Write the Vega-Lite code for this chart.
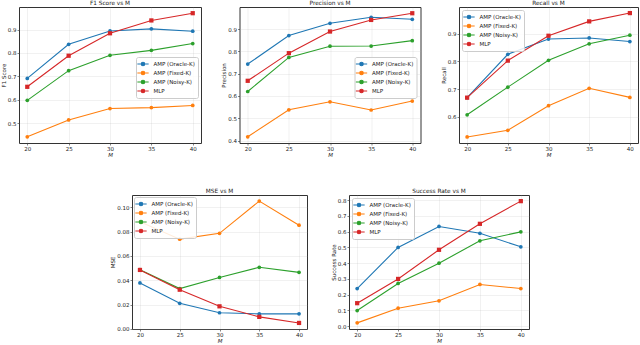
{
  "$schema": "https://vega.github.io/schema/vega-lite/v6.json",
  "padding": {"left": 0, "top": -1, "right": 0, "bottom": 0},
  "background": "white",
  "datasets": {
    "d": [
      {"metric": "F1", "method": "AMP (Oracle-K)", "M": 20, "value": 0.691},
      {"metric": "F1", "method": "AMP (Oracle-K)", "M": 25, "value": 0.837},
      {"metric": "F1", "method": "AMP (Oracle-K)", "M": 30, "value": 0.894},
      {"metric": "F1", "method": "AMP (Oracle-K)", "M": 35, "value": 0.903},
      {"metric": "F1", "method": "AMP (Oracle-K)", "M": 40, "value": 0.893},
      {"metric": "F1", "method": "AMP (Fixed-K)", "M": 20, "value": 0.441},
      {"metric": "F1", "method": "AMP (Fixed-K)", "M": 25, "value": 0.513},
      {"metric": "F1", "method": "AMP (Fixed-K)", "M": 30, "value": 0.562},
      {"metric": "F1", "method": "AMP (Fixed-K)", "M": 35, "value": 0.566},
      {"metric": "F1", "method": "AMP (Fixed-K)", "M": 40, "value": 0.575},
      {"metric": "F1", "method": "AMP (Noisy-K)", "M": 20, "value": 0.597},
      {"metric": "F1", "method": "AMP (Noisy-K)", "M": 25, "value": 0.724},
      {"metric": "F1", "method": "AMP (Noisy-K)", "M": 30, "value": 0.790},
      {"metric": "F1", "method": "AMP (Noisy-K)", "M": 35, "value": 0.811},
      {"metric": "F1", "method": "AMP (Noisy-K)", "M": 40, "value": 0.840},
      {"metric": "F1", "method": "MLP", "M": 20, "value": 0.655},
      {"metric": "F1", "method": "MLP", "M": 25, "value": 0.788},
      {"metric": "F1", "method": "MLP", "M": 30, "value": 0.884},
      {"metric": "F1", "method": "MLP", "M": 35, "value": 0.939},
      {"metric": "F1", "method": "MLP", "M": 40, "value": 0.970},

      {"metric": "P", "method": "AMP (Oracle-K)", "M": 20, "value": 0.743},
      {"metric": "P", "method": "AMP (Oracle-K)", "M": 25, "value": 0.871},
      {"metric": "P", "method": "AMP (Oracle-K)", "M": 30, "value": 0.926},
      {"metric": "P", "method": "AMP (Oracle-K)", "M": 35, "value": 0.953},
      {"metric": "P", "method": "AMP (Oracle-K)", "M": 40, "value": 0.944},
      {"metric": "P", "method": "AMP (Fixed-K)", "M": 20, "value": 0.417},
      {"metric": "P", "method": "AMP (Fixed-K)", "M": 25, "value": 0.538},
      {"metric": "P", "method": "AMP (Fixed-K)", "M": 30, "value": 0.574},
      {"metric": "P", "method": "AMP (Fixed-K)", "M": 35, "value": 0.537},
      {"metric": "P", "method": "AMP (Fixed-K)", "M": 40, "value": 0.577},
      {"metric": "P", "method": "AMP (Noisy-K)", "M": 20, "value": 0.620},
      {"metric": "P", "method": "AMP (Noisy-K)", "M": 25, "value": 0.773},
      {"metric": "P", "method": "AMP (Noisy-K)", "M": 30, "value": 0.823},
      {"metric": "P", "method": "AMP (Noisy-K)", "M": 35, "value": 0.824},
      {"metric": "P", "method": "AMP (Noisy-K)", "M": 40, "value": 0.848},
      {"metric": "P", "method": "MLP", "M": 20, "value": 0.668},
      {"metric": "P", "method": "MLP", "M": 25, "value": 0.792},
      {"metric": "P", "method": "MLP", "M": 30, "value": 0.889},
      {"metric": "P", "method": "MLP", "M": 35, "value": 0.941},
      {"metric": "P", "method": "MLP", "M": 40, "value": 0.971},

      {"metric": "R", "method": "AMP (Oracle-K)", "M": 20, "value": 0.669},
      {"metric": "R", "method": "AMP (Oracle-K)", "M": 25, "value": 0.826},
      {"metric": "R", "method": "AMP (Oracle-K)", "M": 30, "value": 0.881},
      {"metric": "R", "method": "AMP (Oracle-K)", "M": 35, "value": 0.885},
      {"metric": "R", "method": "AMP (Oracle-K)", "M": 40, "value": 0.872},
      {"metric": "R", "method": "AMP (Fixed-K)", "M": 20, "value": 0.527},
      {"metric": "R", "method": "AMP (Fixed-K)", "M": 25, "value": 0.551},
      {"metric": "R", "method": "AMP (Fixed-K)", "M": 30, "value": 0.640},
      {"metric": "R", "method": "AMP (Fixed-K)", "M": 35, "value": 0.703},
      {"metric": "R", "method": "AMP (Fixed-K)", "M": 40, "value": 0.670},
      {"metric": "R", "method": "AMP (Noisy-K)", "M": 20, "value": 0.607},
      {"metric": "R", "method": "AMP (Noisy-K)", "M": 25, "value": 0.707},
      {"metric": "R", "method": "AMP (Noisy-K)", "M": 30, "value": 0.804},
      {"metric": "R", "method": "AMP (Noisy-K)", "M": 35, "value": 0.864},
      {"metric": "R", "method": "AMP (Noisy-K)", "M": 40, "value": 0.895},
      {"metric": "R", "method": "MLP", "M": 20, "value": 0.669},
      {"metric": "R", "method": "MLP", "M": 25, "value": 0.803},
      {"metric": "R", "method": "MLP", "M": 30, "value": 0.893},
      {"metric": "R", "method": "MLP", "M": 35, "value": 0.945},
      {"metric": "R", "method": "MLP", "M": 40, "value": 0.975},

      {"metric": "MSE", "method": "AMP (Oracle-K)", "M": 20, "value": 0.0378},
      {"metric": "MSE", "method": "AMP (Oracle-K)", "M": 25, "value": 0.0210},
      {"metric": "MSE", "method": "AMP (Oracle-K)", "M": 30, "value": 0.0132},
      {"metric": "MSE", "method": "AMP (Oracle-K)", "M": 35, "value": 0.0123},
      {"metric": "MSE", "method": "AMP (Oracle-K)", "M": 40, "value": 0.0123},
      {"metric": "MSE", "method": "AMP (Fixed-K)", "M": 20, "value": 0.0882},
      {"metric": "MSE", "method": "AMP (Fixed-K)", "M": 25, "value": 0.0739},
      {"metric": "MSE", "method": "AMP (Fixed-K)", "M": 30, "value": 0.0787},
      {"metric": "MSE", "method": "AMP (Fixed-K)", "M": 35, "value": 0.1053},
      {"metric": "MSE", "method": "AMP (Fixed-K)", "M": 40, "value": 0.0854},
      {"metric": "MSE", "method": "AMP (Noisy-K)", "M": 20, "value": 0.0487},
      {"metric": "MSE", "method": "AMP (Noisy-K)", "M": 25, "value": 0.0331},
      {"metric": "MSE", "method": "AMP (Noisy-K)", "M": 30, "value": 0.0423},
      {"metric": "MSE", "method": "AMP (Noisy-K)", "M": 35, "value": 0.0507},
      {"metric": "MSE", "method": "AMP (Noisy-K)", "M": 40, "value": 0.0465},
      {"metric": "MSE", "method": "MLP", "M": 20, "value": 0.0485},
      {"metric": "MSE", "method": "MLP", "M": 25, "value": 0.0322},
      {"metric": "MSE", "method": "MLP", "M": 30, "value": 0.0185},
      {"metric": "MSE", "method": "MLP", "M": 35, "value": 0.0098},
      {"metric": "MSE", "method": "MLP", "M": 40, "value": 0.0048},

      {"metric": "SR", "method": "AMP (Oracle-K)", "M": 20, "value": 0.239},
      {"metric": "SR", "method": "AMP (Oracle-K)", "M": 25, "value": 0.500},
      {"metric": "SR", "method": "AMP (Oracle-K)", "M": 30, "value": 0.633},
      {"metric": "SR", "method": "AMP (Oracle-K)", "M": 35, "value": 0.590},
      {"metric": "SR", "method": "AMP (Oracle-K)", "M": 40, "value": 0.504},
      {"metric": "SR", "method": "AMP (Fixed-K)", "M": 20, "value": 0.021},
      {"metric": "SR", "method": "AMP (Fixed-K)", "M": 25, "value": 0.114},
      {"metric": "SR", "method": "AMP (Fixed-K)", "M": 30, "value": 0.161},
      {"metric": "SR", "method": "AMP (Fixed-K)", "M": 35, "value": 0.265},
      {"metric": "SR", "method": "AMP (Fixed-K)", "M": 40, "value": 0.239},
      {"metric": "SR", "method": "AMP (Noisy-K)", "M": 20, "value": 0.099},
      {"metric": "SR", "method": "AMP (Noisy-K)", "M": 25, "value": 0.271},
      {"metric": "SR", "method": "AMP (Noisy-K)", "M": 30, "value": 0.400},
      {"metric": "SR", "method": "AMP (Noisy-K)", "M": 35, "value": 0.542},
      {"metric": "SR", "method": "AMP (Noisy-K)", "M": 40, "value": 0.599},
      {"metric": "SR", "method": "MLP", "M": 20, "value": 0.146},
      {"metric": "SR", "method": "MLP", "M": 25, "value": 0.300},
      {"metric": "SR", "method": "MLP", "M": 30, "value": 0.485},
      {"metric": "SR", "method": "MLP", "M": 35, "value": 0.650},
      {"metric": "SR", "method": "MLP", "M": 40, "value": 0.794}
    ]
  },
  "resolve": {"scale": {"color": "independent"}, "legend": {"color": "independent"}},
  "spacing": 28,
  "vconcat": [
    {
      "spacing": 18.5,
      "resolve": {"scale": {"color": "independent"}, "legend": {"color": "independent"}},
      "hconcat": [
        {
          "width": 182, "height": 136,
          "title": "F1 Score vs M",
          "data": {"name": "d"},
          "transform": [{"filter": "datum.metric === 'F1'"}],
          "encoding": {
            "x": {"field": "M", "type": "quantitative", "scale": {"domain": [19, 41], "nice": false, "zero": false}, "axis": {"values": [20, 25, 30, 35, 40], "title": "M"}},
            "y": {"field": "value", "type": "quantitative", "scale": {"domain": [0.4145, 0.9965], "nice": false, "zero": false}, "axis": {"values": [0.5, 0.6, 0.7, 0.8, 0.9], "format": ".1f", "title": "F1 Score"}},
            "color": {"field": "method", "type": "nominal", "sort": ["AMP (Oracle-K)", "AMP (Fixed-K)", "AMP (Noisy-K)", "MLP"],
              "scale": {"domain": ["AMP (Oracle-K)", "AMP (Fixed-K)", "AMP (Noisy-K)", "MLP"], "range": ["#1f77b4", "#ff7f0e", "#2ca02c", "#d62728"]},
              "legend": {"title": null, "orient": "none", "legendX": 117, "legendY": 50}}
          },
          "layer": [
            {"mark": {"type": "line", "strokeWidth": 1.1}},
            {"transform": [{"filter": "datum.method !== 'MLP'"}], "mark": {"type": "point", "shape": "circle", "filled": true, "size": 14, "opacity": 1}},
            {"transform": [{"filter": "datum.method === 'MLP'"}], "mark": {"type": "point", "shape": "square", "filled": true, "size": 18, "opacity": 1}}
          ]
        },
        {
          "width": 181, "height": 136,
          "title": "Precision vs M",
          "data": {"name": "d"},
          "transform": [{"filter": "datum.metric === 'P'"}],
          "encoding": {
            "x": {"field": "M", "type": "quantitative", "scale": {"domain": [19, 41], "nice": false, "zero": false}, "axis": {"values": [20, 25, 30, 35, 40], "title": "M"}},
            "y": {"field": "value", "type": "quantitative", "scale": {"domain": [0.389, 0.999], "nice": false, "zero": false}, "axis": {"values": [0.4, 0.5, 0.6, 0.7, 0.8, 0.9, 1.0], "format": ".1f", "title": "Precision"}},
            "color": {"field": "method", "type": "nominal", "sort": ["AMP (Oracle-K)", "AMP (Fixed-K)", "AMP (Noisy-K)", "MLP"],
              "scale": {"domain": ["AMP (Oracle-K)", "AMP (Fixed-K)", "AMP (Noisy-K)", "MLP"], "range": ["#1f77b4", "#ff7f0e", "#2ca02c", "#d62728"]},
              "legend": {"title": null, "orient": "none", "legendX": 115, "legendY": 50}}
          },
          "layer": [
            {"mark": {"type": "line", "strokeWidth": 1.1}},
            {"transform": [{"filter": "datum.method !== 'MLP'"}], "mark": {"type": "point", "shape": "circle", "filled": true, "size": 14, "opacity": 1}},
            {"transform": [{"filter": "datum.method === 'MLP'"}], "mark": {"type": "point", "shape": "square", "filled": true, "size": 18, "opacity": 1}}
          ]
        },
        {
          "width": 179, "height": 136,
          "title": "Recall vs M",
          "data": {"name": "d"},
          "transform": [{"filter": "datum.metric === 'R'"}],
          "encoding": {
            "x": {"field": "M", "type": "quantitative", "scale": {"domain": [19, 41], "nice": false, "zero": false}, "axis": {"values": [20, 25, 30, 35, 40], "title": "M"}},
            "y": {"field": "value", "type": "quantitative", "scale": {"domain": [0.505, 0.997], "nice": false, "zero": false}, "axis": {"values": [0.6, 0.7, 0.8, 0.9], "format": ".1f", "title": "Recall"}},
            "color": {"field": "method", "type": "nominal", "sort": ["AMP (Oracle-K)", "AMP (Fixed-K)", "AMP (Noisy-K)", "MLP"],
              "scale": {"domain": ["AMP (Oracle-K)", "AMP (Fixed-K)", "AMP (Noisy-K)", "MLP"], "range": ["#1f77b4", "#ff7f0e", "#2ca02c", "#d62728"]},
              "legend": {"title": null, "orient": "top-left", "offset": 3}}
          },
          "layer": [
            {"mark": {"type": "line", "strokeWidth": 1.1}},
            {"transform": [{"filter": "datum.method !== 'MLP'"}], "mark": {"type": "point", "shape": "circle", "filled": true, "size": 14, "opacity": 1}},
            {"transform": [{"filter": "datum.method === 'MLP'"}], "mark": {"type": "point", "shape": "square", "filled": true, "size": 18, "opacity": 1}}
          ]
        }
      ]
    },
    {
      "spacing": 22,
      "resolve": {"scale": {"color": "independent"}, "legend": {"color": "independent"}},
      "hconcat": [
        {
          "width": 69, "height": 10,
          "data": {"values": []},
          "mark": "point",
          "view": {"stroke": null}
        },
        {
          "width": 175, "height": 134,
          "title": "MSE vs M",
          "data": {"name": "d"},
          "transform": [{"filter": "datum.metric === 'MSE'"}],
          "encoding": {
            "x": {"field": "M", "type": "quantitative", "scale": {"domain": [19, 41], "nice": false, "zero": false}, "axis": {"values": [20, 25, 30, 35, 40], "title": "M"}},
            "y": {"field": "value", "type": "quantitative", "scale": {"domain": [-0.0002, 0.1103], "nice": false, "zero": false}, "axis": {"values": [0, 0.02, 0.04, 0.06, 0.08, 0.1], "format": ".2f", "title": "MSE"}},
            "color": {"field": "method", "type": "nominal", "sort": ["AMP (Oracle-K)", "AMP (Fixed-K)", "AMP (Noisy-K)", "MLP"],
              "scale": {"domain": ["AMP (Oracle-K)", "AMP (Fixed-K)", "AMP (Noisy-K)", "MLP"], "range": ["#1f77b4", "#ff7f0e", "#2ca02c", "#d62728"]},
              "legend": {"title": null, "orient": "top-left", "offset": 2}}
          },
          "layer": [
            {"mark": {"type": "line", "strokeWidth": 1.1}},
            {"transform": [{"filter": "datum.method !== 'MLP'"}], "mark": {"type": "point", "shape": "circle", "filled": true, "size": 14, "opacity": 1}},
            {"transform": [{"filter": "datum.method === 'MLP'"}], "mark": {"type": "point", "shape": "square", "filled": true, "size": 18, "opacity": 1}}
          ]
        },
        {
          "width": 180, "height": 134,
          "title": "Success Rate vs M",
          "data": {"name": "d"},
          "transform": [{"filter": "datum.metric === 'SR'"}],
          "encoding": {
            "x": {"field": "M", "type": "quantitative", "scale": {"domain": [19, 41], "nice": false, "zero": false}, "axis": {"values": [20, 25, 30, 35, 40], "title": "M"}},
            "y": {"field": "value", "type": "quantitative", "scale": {"domain": [-0.018, 0.833], "nice": false, "zero": false}, "axis": {"values": [0, 0.1, 0.2, 0.3, 0.4, 0.5, 0.6, 0.7, 0.8], "format": ".1f", "title": "Success Rate"}},
            "color": {"field": "method", "type": "nominal", "sort": ["AMP (Oracle-K)", "AMP (Fixed-K)", "AMP (Noisy-K)", "MLP"],
              "scale": {"domain": ["AMP (Oracle-K)", "AMP (Fixed-K)", "AMP (Noisy-K)", "MLP"], "range": ["#1f77b4", "#ff7f0e", "#2ca02c", "#d62728"]},
              "legend": {"title": null, "orient": "top-left", "offset": 3}}
          },
          "layer": [
            {"mark": {"type": "line", "strokeWidth": 1.1}},
            {"transform": [{"filter": "datum.method !== 'MLP'"}], "mark": {"type": "point", "shape": "circle", "filled": true, "size": 14, "opacity": 1}},
            {"transform": [{"filter": "datum.method === 'MLP'"}], "mark": {"type": "point", "shape": "square", "filled": true, "size": 18, "opacity": 1}}
          ]
        }
      ]
    }
  ],
  "config": {
    "font": "DejaVu Sans",
    "view": {"stroke": "#333333", "strokeWidth": 1},
    "axis": {"domain": false, "grid": true, "gridColor": "#b0b0b0", "gridOpacity": 0.3, "gridWidth": 0.6, "tickColor": "#333333", "tickSize": 2, "tickWidth": 0.6, "labelFontSize": 5.5, "labelColor": "#222222", "labelPadding": 1, "titleFontSize": 5.5, "titleFontWeight": "normal", "titleColor": "#222222", "titlePadding": 1},
    "axisX": {"titleFontStyle": "italic"},
    "title": {"fontSize": 5.8, "fontWeight": "normal", "offset": 1, "color": "#222222"},
    "legend": {"labelFontSize": 5.5, "labelColor": "#222222", "symbolSize": 50, "symbolType": "M-1.6,0L1.6,0M0.5,0A0.5,0.5,0,1,1,-0.5,0A0.5,0.5,0,1,1,0.5,0Z", "symbolStrokeWidth": 1.1, "labelOffset": 6, "rowPadding": 0, "padding": 2.5, "fillColor": "rgba(255,255,255,0.85)", "strokeColor": "#cccccc", "cornerRadius": 2, "labelLimit": 200}
  }
}
